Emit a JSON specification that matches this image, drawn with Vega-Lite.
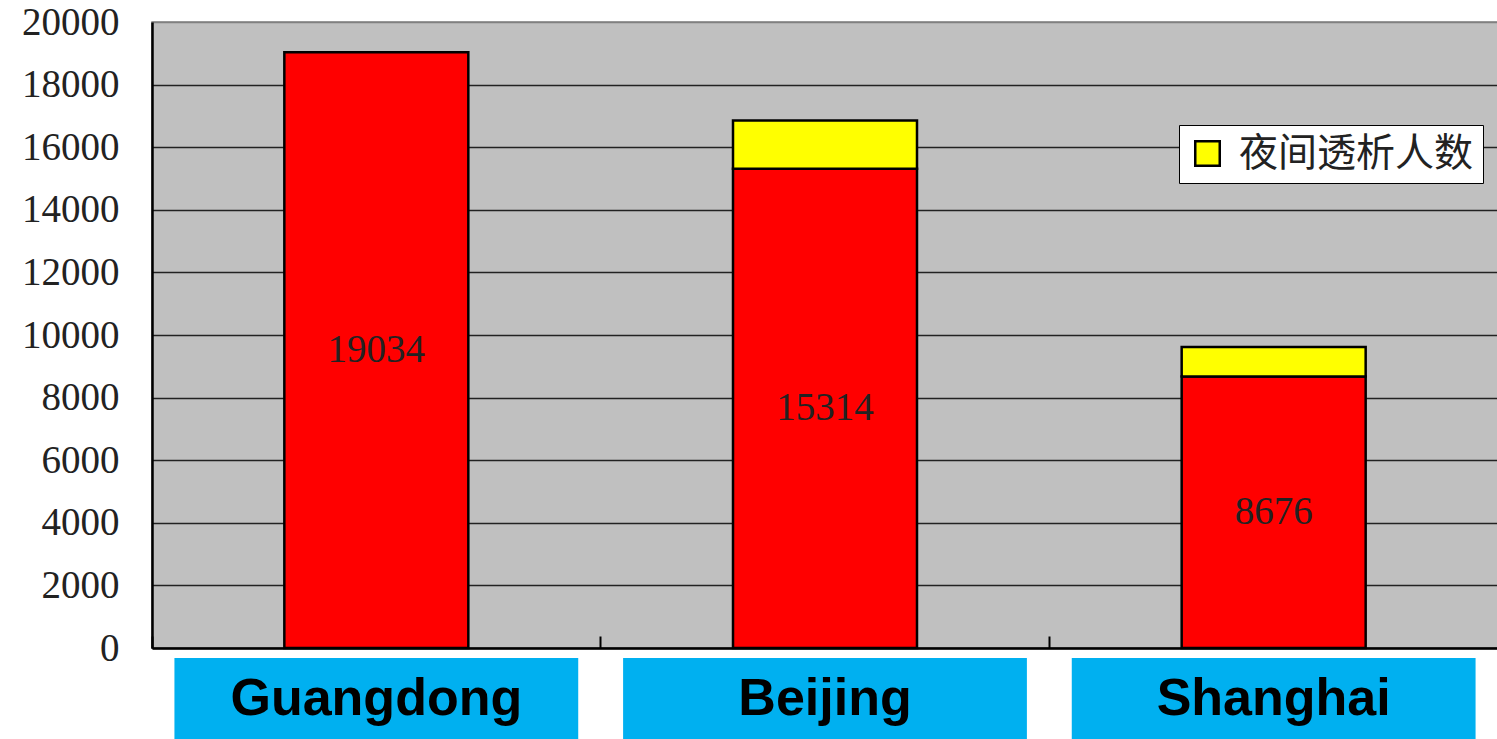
{
  "$schema": "https://vega.github.io/schema/vega-lite/v6.json",
  "padding": {"left": 20, "top": 2, "right": 0, "bottom": 0},
  "background": "white",
  "bounds": "flush",
  "data": {"values": [
    {"region": "Guangdong", "series": "透析人数", "value": 19034},
    {"region": "Beijing", "series": "透析人数", "value": 15314},
    {"region": "Beijing", "series": "夜间透析人数", "value": 1540},
    {"region": "Shanghai", "series": "透析人数", "value": 8676},
    {"region": "Shanghai", "series": "夜间透析人数", "value": 940}
  ]},
  "config": {"concat": {"spacing": 10}, "view": {"stroke": null}},
  "resolve": {"legend": {"color": "independent"}},
  "vconcat": [
    {
      "width": 1346,
      "height": 626,
      "view": {"fill": "#C0C0C0", "stroke": "#808080", "strokeWidth": 1.5},
      "resolve": {"scale": {"y": "independent"}},
      "layer": [
        {
          "mark": {"type": "bar", "size": 184, "stroke": "black", "strokeWidth": 2.5},
          "encoding": {
            "x": {
              "field": "region", "type": "nominal", "sort": null,
              "scale": {"paddingInner": 0, "paddingOuter": 0},
              "axis": {"title": null, "labels": false, "domainColor": "black", "domainWidth": 2.5, "tickColor": "black", "tickSize": -12, "tickWidth": 2, "bandPosition": 0, "grid": false, "minExtent": 0, "maxExtent": 0, "offset": 0}
            },
            "y": {
              "field": "value", "type": "quantitative", "stack": "zero",
              "scale": {"domain": [0, 20000], "nice": false},
              "axis": {
                "title": null, "values": [0, 2000, 4000, 6000, 8000, 10000, 12000, 14000, 16000, 18000, 20000],
                "format": "d", "labelFont": "Liberation Serif", "labelFontSize": 39, "labelColor": "#222",
                "labelPadding": 33, "ticks": false, "domainColor": "black", "domainWidth": 2.5,
                "grid": true, "gridWidth": 1.5,
                "gridColor": {"condition": {"test": "datum.value === 20000", "value": "#808080"}, "value": "#222"}
              }
            },
            "color": {
              "field": "series", "type": "nominal",
              "scale": {"domain": ["透析人数", "夜间透析人数"], "range": ["#FF0000", "#FFFF00"]},
              "legend": {
                "values": ["夜间透析人数"], "title": null, "orient": "none", "legendX": 1027, "legendY": 103,
                "fillColor": "white", "strokeColor": "black", "padding": 9,
                "labelFont": "Noto Sans CJK SC", "labelFontSize": 39, "labelColor": "#222", "labelOffset": 12, "labelLimit": 500,
                "symbolType": "square", "symbolSize": 600, "symbolStrokeColor": "black", "symbolStrokeWidth": 2.5
              }
            },
            "order": {"field": "series", "sort": "descending"}
          }
        },
        {
          "transform": [{"filter": "datum.series == '透析人数'"}],
          "mark": {"type": "text", "font": "Liberation Serif", "fontSize": 39, "color": "#222", "baseline": "middle"},
          "encoding": {
            "x": {"field": "region", "type": "nominal", "sort": null},
            "y": {"field": "value", "type": "quantitative", "scale": {"domain": [0, 40000], "nice": false}, "axis": null},
            "text": {"field": "value", "type": "quantitative", "format": "d"}
          }
        }
      ]
    },
    {
      "width": 1346,
      "height": 81,
      "transform": [{"filter": "datum.series == '透析人数'"}],
      "layer": [
        {
          "mark": {"type": "bar", "size": 385, "color": "#00B0F0"},
          "encoding": {
            "x": {"field": "region", "type": "nominal", "sort": null, "axis": null}
          }
        },
        {
          "mark": {"type": "text", "font": "Liberation Sans", "fontWeight": "bold", "fontSize": 52, "color": "black", "baseline": "middle"},
          "encoding": {
            "x": {"field": "region", "type": "nominal", "sort": null, "axis": null},
            "text": {"field": "region", "type": "nominal"}
          }
        }
      ]
    }
  ]
}
